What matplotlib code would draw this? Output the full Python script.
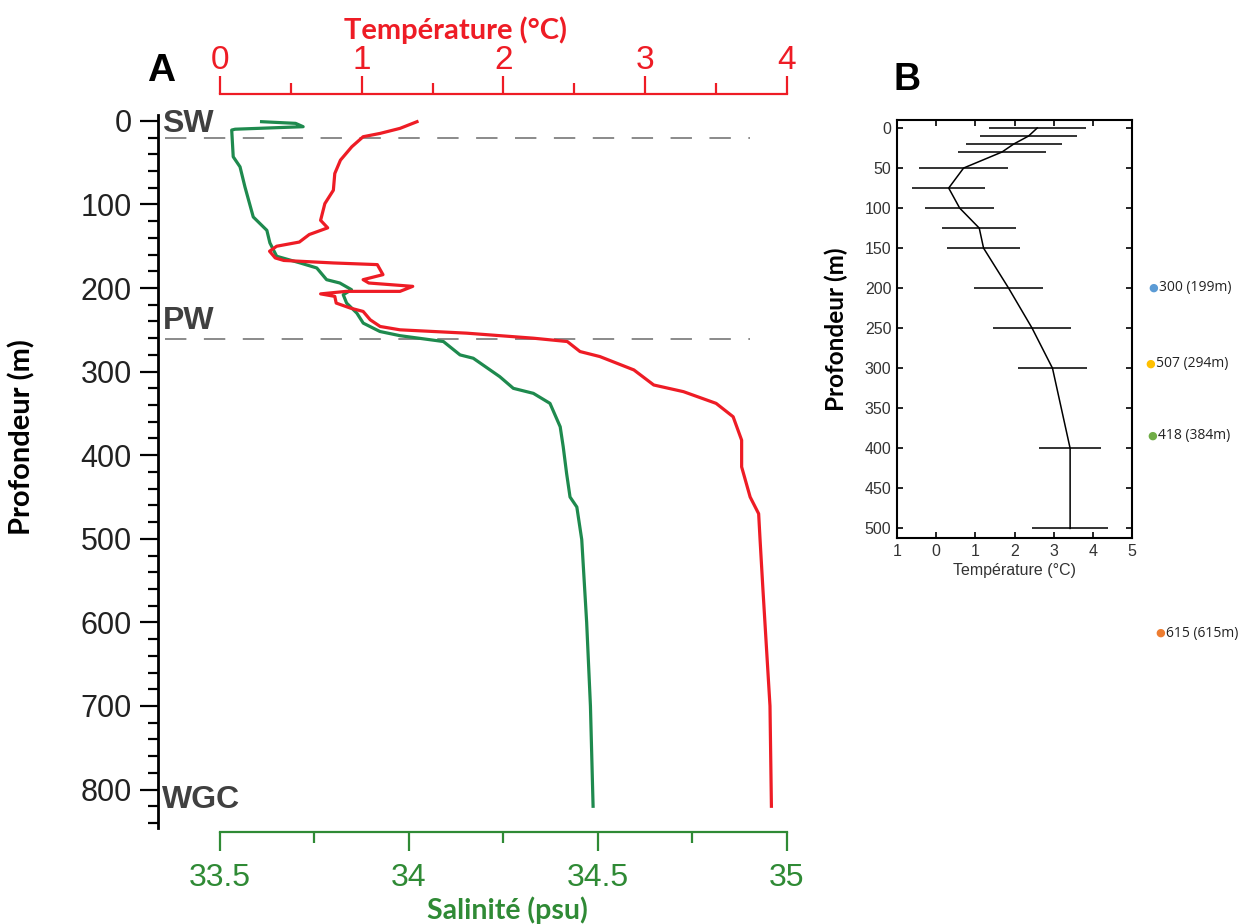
import numpy as np
import matplotlib.pyplot as plt
from matplotlib.ticker import MultipleLocator, FixedLocator

# Panel A: CTD profile (depth in m)
temp_depth = [1, 9, 15, 19, 31, 47, 63, 83, 99, 119, 128, 136, 145, 150, 156, 164, 167,
              170, 172, 184, 190, 194, 198, 204, 204, 207, 210, 218, 224, 228, 238, 246,
              250, 254, 260, 264, 276, 282, 298, 316, 324, 338, 354, 382, 414, 450, 470,
              501, 560, 700, 820]
temp_vals = [1.39, 1.27, 1.13, 1.01, 0.93, 0.85, 0.81, 0.80, 0.74, 0.71, 0.76, 0.63, 0.56,
             0.40, 0.35, 0.39, 0.45, 0.80, 1.11, 1.15, 1.01, 1.05, 1.36, 1.27, 0.89, 0.71,
             0.81, 0.82, 0.92, 1.01, 1.06, 1.13, 1.27, 1.74, 2.21, 2.45, 2.54, 2.68, 2.92,
             3.06, 3.27, 3.50, 3.62, 3.68, 3.68, 3.74, 3.80, 3.81, 3.83, 3.88, 3.89]

sal_depth = [1, 3, 7, 10, 11, 43, 55, 79, 115, 131, 146, 162, 170, 176, 190, 194, 202,
             208, 218, 230, 242, 252, 257, 264, 280, 284, 306, 320, 326, 338, 366, 390,
             422, 450, 462, 501, 600, 700, 820]
sal_vals = [33.61, 33.70, 33.72, 33.54, 33.531, 33.535, 33.553, 33.566, 33.588, 33.624,
            33.632, 33.65, 33.712, 33.756, 33.782, 33.817, 33.848, 33.826, 33.835, 33.862,
            33.879, 33.923, 33.976, 34.091, 34.135, 34.17, 34.24, 34.276, 34.329, 34.373,
            34.40, 34.408, 34.417, 34.426, 34.444, 34.457, 34.47, 34.48, 34.487]

layers = ["SW", "PW", "WGC"]
layer_depth = [4, 239, 813]
boundary_depth = [21, 261]

# Panel B: mean temperature with spread
b_depth = [0, 10, 20, 30, 50, 75, 100, 125, 150, 200, 250, 300, 400, 500]
b_mean = [2.58, 2.36, 1.98, 1.68, 0.70, 0.32, 0.60, 1.10, 1.21, 1.85, 2.45, 2.97, 3.42, 3.42]
b_err = [1.24, 1.23, 1.23, 1.12, 1.13, 0.93, 0.88, 0.95, 0.94, 0.88, 1.0, 0.88, 0.80, 0.97]
b_xticks = [-1, 0, 1, 2, 3, 4, 5]
b_xticklabels = ["1", "0", "1", "2", "3", "4", "5"]

stations = ["300 (199m)", "507 (294m)", "418 (384m)", "615 (615m)"]
station_colors = ["#5b9bd5", "#ffc000", "#70ad47", "#ed7d31"]

W, H = 1251, 924
RED = "#ee1c25"
GREEN_LINE = "#1e8a4e"
GREEN_TXT = "#2f8a35"
GREY = "#404040"

fig = plt.figure(figsize=(W / 100, H / 100), dpi=100)

# ---- Panel A
ax = fig.add_axes([158 / W, 1 - 828 / H, 629 / W, 713 / H])
ax.set_ylim(846, -7)
ax.set_xlim(33.336, 35)
ax2 = ax.twiny()
ax2.set_xlim(-0.437, 4)
ax2.set_ylim(846, -7)

ax.plot(sal_vals, sal_depth, color=GREEN_LINE, lw=2.3, zorder=3)
ax2.plot(temp_vals, temp_depth, color=RED, lw=2.3, zorder=3)

for d in boundary_depth:
    ax.axhline(d, xmin=0.011, xmax=0.941, color="#8a8a8a", lw=1.4,
               dashes=(11, 9), zorder=1)
for name, d in zip(layers, layer_depth):
    ax.text(0.007, d, name, transform=ax.get_yaxis_transform(), color=GREY,
            fontsize=23, fontweight="bold", family="Liberation Sans", va="center")

for s in ["top", "right"]:
    ax.spines[s].set_visible(False)
for s in ["left", "bottom", "right"]:
    ax2.spines[s].set_visible(False)
ax.spines["left"].set_linewidth(2)
ax.spines["bottom"].set_bounds(33.5, 35)
ax.spines["bottom"].set_position(("outward", 3))
ax.spines["bottom"].set_color(GREEN_TXT)
ax.spines["bottom"].set_linewidth(1.6)
ax2.spines["top"].set_bounds(0, 4)
ax2.spines["top"].set_position(("outward", 15))
ax2.spines["top"].set_color(RED)
ax2.spines["top"].set_linewidth(1.6)

ax.yaxis.set_major_locator(MultipleLocator(100))
ax.yaxis.set_minor_locator(MultipleLocator(20))
ax.tick_params(axis="y", which="major", length=13, width=1.6, labelsize=22, pad=6,
               labelcolor="#222222")
ax.tick_params(axis="y", which="minor", length=7, width=1.6)
ax.xaxis.set_major_locator(FixedLocator([33.5, 34, 34.5, 35]))
ax.xaxis.set_minor_locator(FixedLocator([33.75, 34.25, 34.75]))
ax.set_xticklabels(["33.5", "34", "34.5", "35"])
ax.tick_params(axis="x", which="major", length=14, width=1.6, color=GREEN_TXT,
               labelcolor=GREEN_TXT, labelsize=23, pad=8)
ax.tick_params(axis="x", which="minor", length=8, width=1.6, color=GREEN_TXT)
ax2.xaxis.set_major_locator(MultipleLocator(1))
ax2.xaxis.set_minor_locator(MultipleLocator(0.5))
ax2.tick_params(axis="x", which="major", length=13, width=1.6, color=RED,
                labelcolor=RED, labelsize=24, pad=0)
ax2.tick_params(axis="x", which="minor", length=8, width=1.6, color=RED)
for lab in ax.get_yticklabels() + ax.get_xticklabels() + ax2.get_xticklabels():
    lab.set_family("Liberation Sans")

fig.text(455 / W, 1 - 30 / H, "Température (°C)", color=RED, fontsize=21,
         fontweight="bold", family="Lato", ha="center", va="center")
fig.text(507 / W, 1 - 910 / H, "Salinité (psu)", color=GREEN_TXT, fontsize=20.5,
         fontweight="bold", family="Lato", ha="center", va="center")
fig.text(22 / W, 1 - 437 / H, "Profondeur (m)", color="black", fontsize=21,
         fontweight="bold", family="Lato", rotation=90, ha="center", va="center")
fig.text(161 / W, 1 - 71 / H, "A", fontsize=28, fontweight="bold",
         family="Liberation Sans", ha="center", va="center")

# ---- Panel B
bx = fig.add_axes([897 / W, 1 - 538 / H, 235 / W, 418 / H])
bx.errorbar(b_mean, b_depth, xerr=b_err, color="black", lw=1.1, ecolor="#333333",
            elinewidth=1.4, capsize=0)
bx.set_xlim(-1, 5)
bx.set_ylim(512, -10)
bx.set_xticks(b_xticks)
bx.set_xticklabels(b_xticklabels)
bx.yaxis.set_major_locator(MultipleLocator(50))
bx.tick_params(direction="in", top=True, right=True, length=4, width=1.2,
               labelsize=11.5, labelcolor="#333333", pad=4)
for lab in bx.get_xticklabels() + bx.get_yticklabels():
    lab.set_family("Liberation Sans")
for s in bx.spines.values():
    s.set_linewidth(1.5)
bx.set_xlabel("Température (°C)", fontsize=11.5, color="#333333", labelpad=3,
              family="Liberation Sans")
bx.set_ylabel("Profondeur (m)", fontsize=17.5, fontweight="bold", family="Lato",
              labelpad=12)
fig.text(907 / W, 1 - 80 / H, "B", fontsize=27, fontweight="bold",
         family="Liberation Sans", ha="center", va="center")

station_y = [288, 364, 436, 633]
station_x = [1148, 1145, 1147, 1155]
for lab, col, x, y in zip(stations, station_colors, station_x, station_y):
    fig.text(x / W, 1 - y / H, "●", color=col, fontsize=8, ha="left", va="center")
    fig.text((x + 11) / W, 1 - y / H, lab, color="#222222", fontsize=10,
             family="Open Sans", ha="left", va="center")

fig.savefig("out.png", dpi=100)
